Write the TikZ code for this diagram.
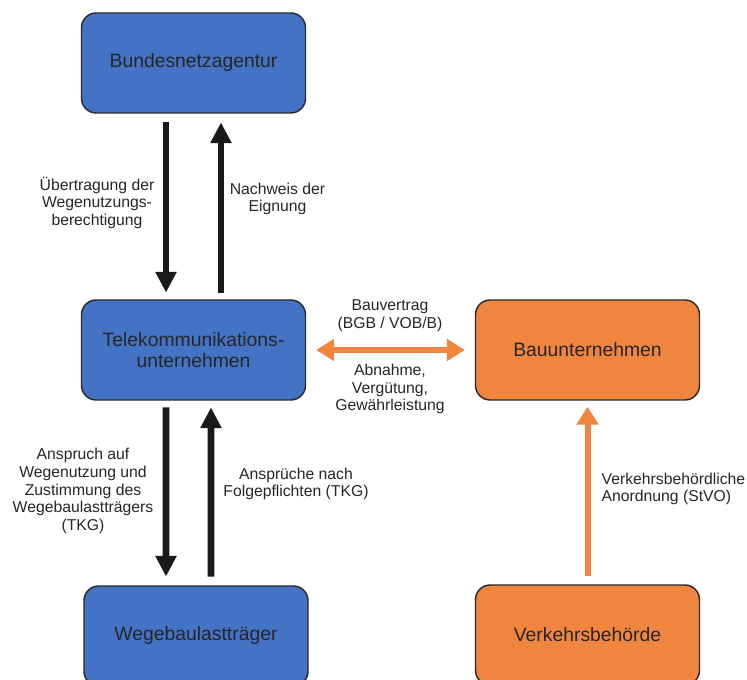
\documentclass[tikz,border=0pt]{standalone}
\usepackage{fontspec}
\setmainfont{Liberation Sans}
\usetikzlibrary{arrows.meta}
\definecolor{telblue}{HTML}{4472C4}
\definecolor{bauorange}{HTML}{F0853F}
\definecolor{boxline}{HTML}{2B2B2B}

\begin{document}
\begin{tikzpicture}[x=0.75pt,y=-0.75pt,
			box/.style={draw=boxline,line width=1.1pt,rounded corners=11pt,minimum width=168pt,minimum height=75pt,inner sep=0pt,align=center,text=black!85,font=\fontsize{14.5}{15.5}\selectfont},
			bluebox/.style={box,fill=telblue},
			orangebox/.style={box,fill=bauorange},
			lbl/.style={align=center,text=black!85,font=\fontsize{11.8}{13.4}\selectfont},
			blackarrow/.style={draw=black!90,line width=5pt,-{Triangle[width=15pt,length=15.5pt]}},
			orangearrow/.style={draw=bauorange,line width=4.5pt,-{Triangle[width=16pt,length=13.5pt]}}]
			\useasboundingbox (0,0) rectangle (747,680);
			\clip (0,0) rectangle (747,680);
			\node[bluebox] (bnetza) at (193.5,63) {Bundesnetzagentur};
			\node[bluebox] (tku) at (193.5,350) {Telekommunikations-\\unternehmen};
			\node[bluebox] (wbl) at (196,636) {Wegebaulastträger};
			\node[orangebox] (bau) at (587.5,350) {Bauunternehmen};
			\node[orangebox] (vb) at (587.5,635) {Verkehrsbehörde};
			\draw[blackarrow,shorten <=6.5pt,shorten >=5pt] ([xshift=-20.6pt]bnetza.south) -- ([xshift=-20.6pt]tku.north);
			\draw[blackarrow,shorten <=5pt,shorten >=6.5pt] ([xshift=20.6pt]tku.north) -- ([xshift=20.6pt]bnetza.south);
			\draw[blackarrow,shorten <=5pt,shorten >=6.5pt] ([xshift=-20.6pt]tku.south) -- ([xshift=-22.5pt]wbl.north);
			\draw[blackarrow,shorten <=6.5pt,shorten >=5pt] ([xshift=11.25pt]wbl.north) -- ([xshift=13.1pt]tku.south);
			\draw[orangearrow,{Triangle[width=16pt,length=13.5pt]}-{Triangle[width=16pt,length=13.5pt]},shorten <=7.5pt,shorten >=7.5pt] (tku.east) -- (bau.west);
			\draw[orangearrow,shorten <=6pt,shorten >=4.5pt] (vb.north) -- (bau.south);
			\node[lbl] (uebertr) at (97,203) {Übertragung der\\Wegenutzungs-\\berechtigung};
			\node[lbl] (nachweis) at (277.5,199) {Nachweis der\\Eignung};
			\node[lbl] (bauvertrag) at (390,316) {Bauvertrag\\(BGB / VOB/B)};
			\node[lbl] (abnahme) at (390,389) {Abnahme,\\Vergütung,\\Gewährleistung};
			\node[lbl] (anspruch) at (83,491) {Anspruch auf\\Wegenutzung und\\Zustimmung des\\Wegebaulastträgers\\(TKG)};
			\node[lbl] (folge) at (296,484) {Ansprüche nach\\Folgepflichten (TKG)};
			\node[lbl,align=left,anchor=west] (anordnung) at (597,489) {Verkehrsbehördliche\\Anordnung (StVO)};
\end{tikzpicture}
\end{document}
